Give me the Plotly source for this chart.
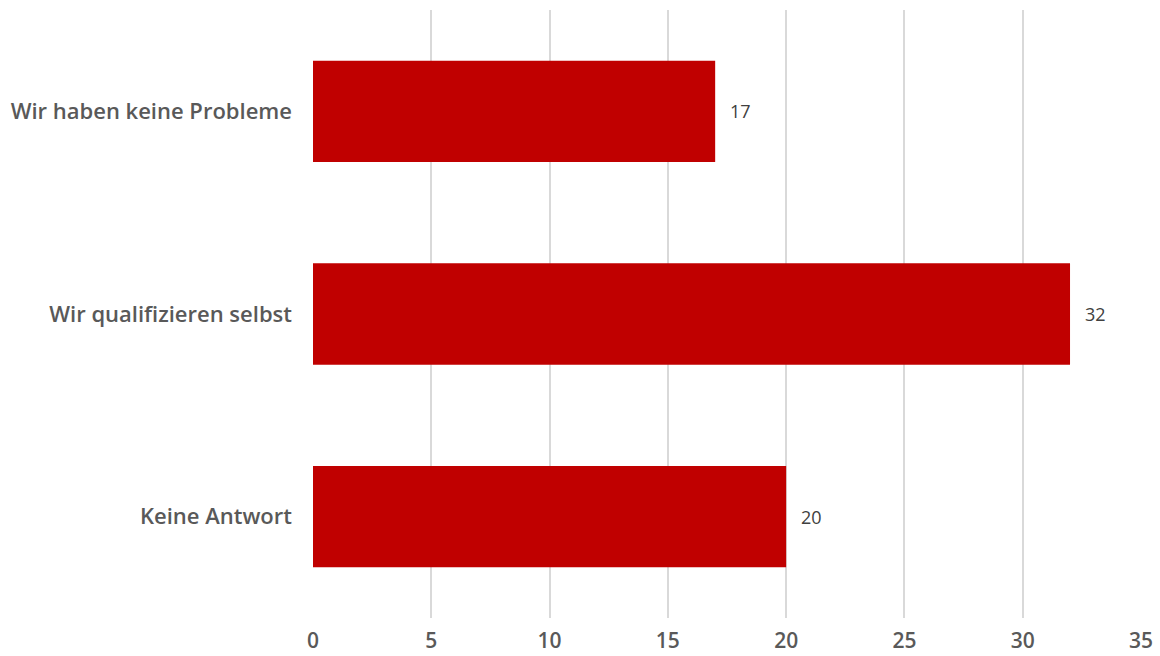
import plotly.graph_objects as go

categories = ["Wir haben keine Probleme", "Wir qualifizieren selbst", "Keine Antwort"]
values = [17, 32, 20]
x_ticks = [0, 5, 10, 15, 20, 25, 30, 35]

fig = go.Figure()
fig.add_trace(go.Bar(
    y=categories,
    x=values,
    orientation="h",
    width=0.5,
    marker=dict(color="#C00000", line=dict(width=0)),
    hoverinfo="skip",
))

for c, v in zip(categories, values):
    fig.add_annotation(
        x=v, y=c, text=str(v), showarrow=False,
        xanchor="left", yanchor="middle", xshift=13,
        font=dict(family="Open Sans", size=18, color="#404040"),
    )

fig.update_layout(
    width=1160, height=656,
    margin=dict(l=313, r=19, t=10, b=38),
    paper_bgcolor="white", plot_bgcolor="white",
    showlegend=False,
    xaxis=dict(
        range=[0, 35], tickvals=x_ticks, ticktext=[str(t) for t in x_ticks],
        showgrid=True, gridcolor="#D9D9D9", gridwidth=2,
        zeroline=False, showline=False, ticks="",
        ticklabelstandoff=8, automargin=False,
        tickfont=dict(family="Open Sans", size=21, color="#595959", weight=600),
    ),
    yaxis=dict(
        categoryorder="array", categoryarray=categories,
        autorange="reversed", automargin=False,
        showgrid=False, zeroline=False, showline=False, ticks="",
        ticklabelstandoff=20,
        tickfont=dict(family="Open Sans", size=22, color="#595959", weight=600),
    ),
)

fig.write_html("out.html")
